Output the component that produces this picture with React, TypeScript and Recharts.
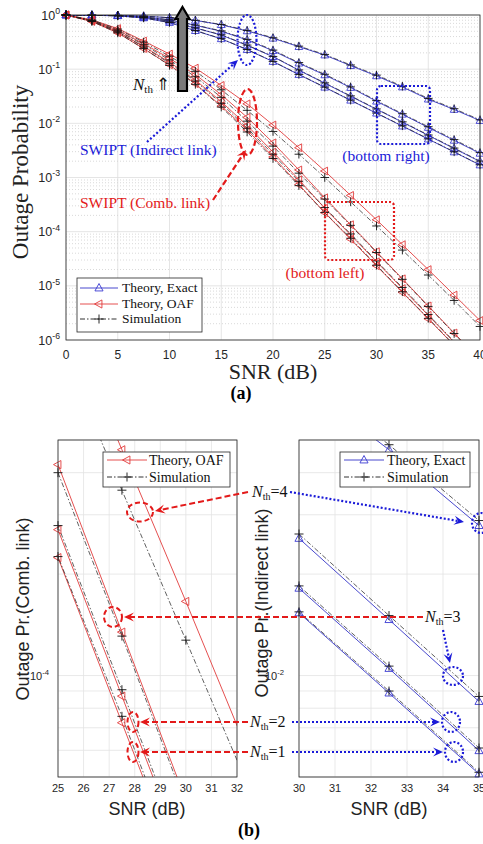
import React from 'react';
import { LineChart, Line, XAxis, YAxis, CartesianGrid, ReferenceLine } from 'recharts';

// ---------------- DATA (log10 of outage probability) ----------------
const snr = [0, 2.5, 5, 7.5, 10, 12.5, 15, 17.5, 20, 22.5, 25, 27.5, 30, 32.5, 35, 37.5, 40];

// Indirect link (SWIPT), Theory Exact, N_th = 1..4
const indirectTheory1 = [0, -0.005, -0.016, -0.055, -0.14, -0.29, -0.44, -0.64, -0.86, -1.1, -1.335, -1.575, -1.814, -2.052, -2.292, -2.53, -2.77];
const indirectTheory2 = [0, -0.004, -0.013, -0.045, -0.115, -0.24, -0.37, -0.56, -0.77, -1.02, -1.26, -1.5, -1.741, -1.979, -2.223, -2.465, -2.705];
const indirectTheory3 = [0, -0.003, -0.01, -0.035, -0.09, -0.19, -0.3, -0.46, -0.66, -0.89, -1.107, -1.34, -1.593, -1.834, -2.077, -2.315, -2.555];
const indirectTheory4 = [0, -0.002, -0.006, -0.02, -0.05, -0.1, -0.18, -0.295, -0.43, -0.585, -0.74, -0.935, -1.125, -1.33, -1.555, -1.745, -1.95];
// Indirect link, Simulation
const indirectSim1 = [0, -0.005, -0.016, -0.054, -0.138, -0.287, -0.437, -0.637, -0.857, -1.097, -1.332, -1.572, -1.811, -2.046, -2.287, -2.526, -2.766];
const indirectSim2 = [0, -0.004, -0.013, -0.044, -0.113, -0.237, -0.366, -0.555, -0.765, -1.014, -1.253, -1.493, -1.734, -1.972, -2.215, -2.457, -2.697];
const indirectSim3 = [0, -0.003, -0.01, -0.034, -0.088, -0.185, -0.293, -0.45, -0.648, -0.878, -1.094, -1.327, -1.58, -1.822, -2.062, -2.3, -2.54];
const indirectSim4 = [0, -0.002, -0.006, -0.02, -0.05, -0.098, -0.175, -0.285, -0.42, -0.575, -0.728, -0.922, -1.11, -1.315, -1.54, -1.73, -1.935];

// Combined link (SWIPT), Theory OAF, N_th = 1..4
const combTheory1 = [0, -0.12, -0.33, -0.62, -0.92, -1.27, -1.68, -2.12, -2.62, -3.13, -3.65, -4.14, -4.63, -5.12, -5.61, -6.1, -6.6];
const combTheory2 = [0, -0.11, -0.31, -0.58, -0.87, -1.2, -1.6, -2.04, -2.53, -3.04, -3.567, -4.061, -4.555, -5.05, -5.545, -6.04, -6.54];
const combTheory3 = [0, -0.1, -0.28, -0.53, -0.8, -1.1, -1.47, -1.89, -2.36, -2.86, -3.374, -3.871, -4.37, -4.87, -5.37, -5.87, -6.37];
const combTheory4 = [0, -0.09, -0.25, -0.48, -0.72, -0.98, -1.3, -1.64, -2.03, -2.45, -2.88, -3.33, -3.78, -4.24, -4.7, -5.17, -5.64];
// Combined link, Simulation
const combSim1 = [0, -0.12, -0.33, -0.62, -0.93, -1.28, -1.7, -2.16, -2.65, -3.15, -3.647, -4.121, -4.62, -5.11, -5.6, -6.09, -6.58];
const combSim2 = [0, -0.11, -0.31, -0.59, -0.89, -1.22, -1.63, -2.09, -2.57, -3.07, -3.555, -4.042, -4.54, -5.03, -5.53, -6.03, -6.53];
const combSim3 = [0, -0.1, -0.29, -0.55, -0.83, -1.14, -1.52, -1.96, -2.42, -2.92, -3.398, -3.883, -4.385, -4.88, -5.38, -5.88, -6.38];
const combSim4 = [0, -0.09, -0.26, -0.5, -0.76, -1.04, -1.38, -1.76, -2.15, -2.57, -3.0, -3.45, -3.895, -4.34, -4.8, -5.27, -5.75];

// tick values
const topXTicks = [0, 5, 10, 15, 20, 25, 30, 35, 40];
const topYTicks = [-6, -5, -4, -3, -2, -1, 0];
const blXTicks = [25, 26, 27, 28, 29, 30, 31, 32];
const blYTicks = [-4];
const brXTicks = [30, 31, 32, 33, 34, 35];
const brYTicks = [-2];

// ---------------- STYLE ----------------
const SANS = "'Liberation Sans', Arial, Helvetica, sans-serif";
const SERIF = "'Liberation Serif', 'Times New Roman', Times, serif";
const BLUE = '#3434c8';
const RED = '#e23c3c';
const SIMC = '#1c1c1c';
const ANN_BLUE = '#1b1bd8';
const ANN_RED = '#e31a1a';
const AXC = '#262626';

type Kind = 'up' | 'left' | 'plus';
type SeriesDef = { key: string; values: number[]; color: string; width: number; dash?: string; marker: Kind; mcolor: string };

const INDIRECT_THEORY: SeriesDef[] = [indirectTheory1, indirectTheory2, indirectTheory3, indirectTheory4].map((v, i) => ({ key: 'it' + (i + 1), values: v, color: BLUE, width: 0.9, marker: 'up' as Kind, mcolor: '#3a3ad2' }));
const INDIRECT_SIM: SeriesDef[] = [indirectSim1, indirectSim2, indirectSim3, indirectSim4].map((v, i) => ({ key: 'is' + (i + 1), values: v, color: SIMC, width: 0.7, dash: '5 2 1.5 2', marker: 'plus' as Kind, mcolor: '#111' }));
const COMB_THEORY: SeriesDef[] = [combTheory1, combTheory2, combTheory3, combTheory4].map((v, i) => ({ key: 'ct' + (i + 1), values: v, color: RED, width: 0.9, marker: 'left' as Kind, mcolor: '#e23a3a' }));
const COMB_SIM: SeriesDef[] = [combSim1, combSim2, combSim3, combSim4].map((v, i) => ({ key: 'cs' + (i + 1), values: v, color: SIMC, width: 0.7, dash: '5 2 1.5 2', marker: 'plus' as Kind, mcolor: '#111' }));

function markerPath(kind: Kind, cx: number, cy: number, s: number) {
  if (kind === 'up') return `M${cx},${cy - s} L${cx + s * 0.9},${cy + s * 0.65} L${cx - s * 0.9},${cy + s * 0.65} Z`;
  if (kind === 'left') return `M${cx - s},${cy} L${cx + s * 0.65},${cy - s * 0.9} L${cx + s * 0.65},${cy + s * 0.9} Z`;
  return `M${cx - s},${cy} H${cx + s} M${cx},${cy - s} V${cy + s}`;
}

const makeDot = (kind: Kind, color: string, s: number) => (props: any) => {
  const { cx, cy, value, index } = props;
  if (cx == null || cy == null || value == null || Number.isNaN(cy)) return <g key={'e' + index} />;
  return <path key={'m' + index} d={markerPath(kind, cx, cy, s)} fill="none" stroke={color} strokeWidth={0.9} />;
};

type PanelProps = {
  left: number; top: number; width: number; height: number;
  margin: { top: number; right: number; bottom: number; left: number };
  xDomain: [number, number]; yDomain: [number, number];
  xTicks: number[]; yTicks: number[];
  series: SeriesDef[];
  minor: number[]; minorDash?: string; gridColor: string; minorColor: string;
  yAxisW: number; xAxisH: number; yGap: number; xGap: number;
  xFont: number; yFont: number; markerSize: number;
};

function Panel(p: PanelProps) {
  const rows = snr.map((s, i) => {
    const r: any = { snr: s };
    p.series.forEach((d) => (r[d.key] = d.values[i]));
    return r;
  });
  const markerRows = rows
    .filter((r) => r.snr >= p.xDomain[0] && r.snr <= p.xDomain[1])
    .map((r) => {
      const o: any = { snr: r.snr };
      p.series.forEach((d) => {
        const v = r[d.key];
        o[d.key] = v >= p.yDomain[0] && v <= p.yDomain[1] ? v : null;
      });
      return o;
    });
  const box: React.CSSProperties = { position: 'absolute', left: p.left, top: p.top, width: p.width, height: p.height };
  const XTick = (t: any) => (
    <text x={t.x} y={t.y + p.xFont * 0.72} textAnchor="middle" fontFamily={SANS} fontSize={p.xFont} fill={AXC}>
      {t.payload.value}
    </text>
  );
  const YTick = (t: any) => (
    <text x={t.x} y={t.y + p.yFont * 0.36} textAnchor="end" fontFamily={SANS} fontSize={p.yFont} fill={AXC}>
      10<tspan dy={-p.yFont * 0.45} fontSize={p.yFont * 0.7}>{t.payload.value}</tspan>
    </text>
  );
  return (
    <>
      <div style={box}>
        <LineChart width={p.width} height={p.height} data={rows}
          margin={{ top: p.margin.top, right: p.margin.right, left: p.margin.left - p.yAxisW, bottom: p.margin.bottom - p.xAxisH }}>
          <CartesianGrid stroke={p.gridColor} strokeWidth={0.8} />
          {p.minor.map((v) => (
            <ReferenceLine key={'mn' + v} y={v} stroke={p.minorColor} strokeWidth={0.8} strokeDasharray={p.minorDash} ifOverflow="discard" />
          ))}
          <XAxis type="number" dataKey="snr" domain={p.xDomain} ticks={p.xTicks} allowDataOverflow height={p.xAxisH}
            axisLine={false} tickLine={false} tickSize={0} tickMargin={p.xGap} tick={XTick} interval={0} />
          <YAxis type="number" domain={p.yDomain} ticks={p.yTicks} allowDataOverflow width={p.yAxisW}
            axisLine={false} tickLine={false} tickSize={0} tickMargin={p.yGap} tick={YTick} interval={0} />
          <Line dataKey={p.series[0].key} stroke="none" dot={false} activeDot={false} isAnimationActive={false} />
        </LineChart>
      </div>
      <div style={box}>
        <LineChart width={p.width} height={p.height} data={rows} margin={p.margin}>
          <XAxis type="number" dataKey="snr" domain={p.xDomain} allowDataOverflow hide />
          <YAxis type="number" domain={p.yDomain} allowDataOverflow hide />
          {p.series.map((d) => (
            <Line key={d.key} dataKey={d.key} stroke={d.color} strokeWidth={d.width} strokeDasharray={d.dash}
              dot={false} activeDot={false} isAnimationActive={false} />
          ))}
        </LineChart>
      </div>
      <div style={box}>
        <LineChart width={p.width} height={p.height} data={markerRows} margin={p.margin}>
          <XAxis type="number" dataKey="snr" domain={p.xDomain} hide />
          <YAxis type="number" domain={p.yDomain} hide />
          {p.series.map((d) => (
            <Line key={d.key} dataKey={d.key} stroke="none" strokeWidth={0} dot={makeDot(d.marker, d.mcolor, p.markerSize)}
              activeDot={false} isAnimationActive={false} />
          ))}
        </LineChart>
      </div>
    </>
  );
}

function Arrow({ x1, y1, x2, y2, color, dash, width = 2, size = 10 }: any) {
  const dx = x2 - x1, dy = y2 - y1, len = Math.hypot(dx, dy);
  const ux = dx / len, uy = dy / len, nx = -uy, ny = ux;
  const bx = x2 - ux * size, by = y2 - uy * size;
  const mx = x2 - ux * size * 0.6, my = y2 - uy * size * 0.6;
  const hw = size * 0.45;
  return (
    <g>
      <line x1={x1} y1={y1} x2={mx} y2={my} stroke={color} strokeWidth={width} strokeDasharray={dash} />
      <path d={`M${x2},${y2} L${bx + nx * hw},${by + ny * hw} L${mx},${my} L${bx - nx * hw},${by - ny * hw} Z`} fill={color} />
    </g>
  );
}

function NthLabel({ x, y, n }: any) {
  return (
    <text x={x} y={y} fontFamily={SERIF} fontSize={16} fill="#111">
      <tspan fontStyle="italic">N</tspan>
      <tspan fontSize={10} dy={3}>th</tspan>
      <tspan dy={-3}>={n}</tspan>
    </text>
  );
}

function LegendRow({ x, y, kind, color, mcolor, dash, label, lw, tx, fs }: any) {
  return (
    <g>
      <line x1={x} y1={y} x2={x + lw} y2={y} stroke={color} strokeWidth={0.9} strokeDasharray={dash} />
      <path d={markerPath(kind, x + lw / 2, y, 4.5)} fill="none" stroke={mcolor} strokeWidth={0.9} />
      <text x={tx} y={y + fs * 0.33} fontFamily={SERIF} fontSize={fs} fill="#111">{label}</text>
    </g>
  );
}

const minorTop: number[] = [];
for (let e = -6; e < 0; e++) for (let k = 2; k <= 9; k++) minorTop.push(e + Math.log10(k));
const minorBL = [5, 6, 7, 8, 9, 20, 30, 40, 50].map((k) => -5 + Math.log10(k));
const minorBR = [5, 6, 7, 8, 9, 20, 30, 40, 50].map((k) => -3 + Math.log10(k));

export default function App() {
  return (
    <div style={{ position: 'absolute', left: 0, top: 0, width: 483, height: 844, background: '#fff', overflow: 'hidden' }}>
      <Panel left={0} top={0} width={483} height={400}
        margin={{ top: 15, right: 3, left: 66, bottom: 60 }}
        xDomain={[0, 40]} yDomain={[-6, 0]} xTicks={topXTicks} yTicks={topYTicks}
        series={[...INDIRECT_THEORY, ...COMB_THEORY, ...INDIRECT_SIM, ...COMB_SIM]}
        minor={minorTop} minorDash="1 2" gridColor="#dedede" minorColor="#cfcfcf"
        yAxisW={60} xAxisH={30} yGap={6} xGap={10} xFont={12} yFont={12.5} markerSize={4.3} />
      <Panel left={0} top={430} width={245} height={380}
        margin={{ top: 10, right: 8, left: 58, bottom: 33 }}
        xDomain={[25, 32]} yDomain={[Math.log10(5e-5), Math.log10(5e-4)]} xTicks={blXTicks} yTicks={blYTicks}
        series={[...COMB_THEORY, ...COMB_SIM]}
        minor={minorBL} gridColor="#e3e3e3" minorColor="#e3e3e3"
        yAxisW={50} xAxisH={25} yGap={9} xGap={7} xFont={11} yFont={11} markerSize={4.5} />
      <Panel left={245} top={430} width={238} height={380}
        margin={{ top: 10, right: 4, left: 54, bottom: 33 }}
        xDomain={[30, 35]} yDomain={[Math.log10(5e-3), Math.log10(5e-2)]} xTicks={brXTicks} yTicks={brYTicks}
        series={[...INDIRECT_THEORY, ...INDIRECT_SIM]}
        minor={minorBR} gridColor="#e3e3e3" minorColor="#e3e3e3"
        yAxisW={50} xAxisH={25} yGap={15} xGap={7} xFont={11} yFont={11} markerSize={4.5} />

      <svg width={483} height={844} style={{ position: 'absolute', left: 0, top: 0, pointerEvents: 'none' }}>
        {/* frames */}
        <rect x={66} y={15} width={414} height={325} fill="none" stroke={AXC} strokeWidth={0.8} />
        <rect x={58} y={440} width={179} height={337} fill="none" stroke={AXC} strokeWidth={0.8} />
        <rect x={299} y={440} width={180} height={337} fill="none" stroke={AXC} strokeWidth={0.8} />

        {/* top axis labels */}
        <text transform="translate(28,172) rotate(-90)" textAnchor="middle" fontFamily={SERIF} fontSize={23} fill="#222">Outage Probability</text>
        <text x={273} y={379} textAnchor="middle" fontFamily={SERIF} fontSize={22} fill="#222">SNR (dB)</text>
        <text x={241} y={399} textAnchor="middle" fontFamily={SERIF} fontSize={18} fontWeight="bold" fill="#000">(a)</text>

        {/* big arrow */}
        <path d="M182.5,7 L189.5,19 L187,19 L187,91 L178,91 L178,19 L175.5,19 Z" fill="#7a7a7a" stroke="#000" strokeWidth={2.2} />
        <text x={133} y={90} fontFamily={SERIF} fontSize={17} fill="#111">
          <tspan fontStyle="italic">N</tspan>
          <tspan fontSize={11} dy={3}>th</tspan>
          <tspan dy={-3} dx={3}>⇑</tspan>
        </text>

        {/* indirect annotation */}
        <ellipse cx={247} cy={40} rx={9.5} ry={25} fill="none" stroke={ANN_BLUE} strokeWidth={2.2} strokeDasharray="2 2" />
        <Arrow x1={147} y1={142} x2={238} y2={60} color={ANN_BLUE} dash="2 2.2" width={2.2} />
        <text x={80} y={155} fontFamily={SERIF} fontSize={15.5} fill={ANN_BLUE}>SWIPT (Indirect link)</text>

        {/* comb annotation */}
        <ellipse cx={247.5} cy={122} rx={9.5} ry={33} fill="none" stroke={ANN_RED} strokeWidth={2.2} strokeDasharray="6 3" />
        <Arrow x1={213} y1={200} x2={246} y2={150} color={ANN_RED} dash="6 3" width={2.2} />
        <text x={80} y={208} fontFamily={SERIF} fontSize={15.5} fill={ANN_RED}>SWIPT (Comb. link)</text>

        {/* zoom boxes */}
        <rect x={377} y={86} width={53} height={58} rx={4} fill="none" stroke={ANN_BLUE} strokeWidth={2.2} strokeDasharray="2 2" />
        <text x={386} y={161} textAnchor="middle" fontFamily={SERIF} fontSize={15.5} fill={ANN_BLUE}>(bottom right)</text>
        <rect x={325} y={202} width={69} height={58} rx={4} fill="none" stroke={ANN_RED} strokeWidth={2.2} strokeDasharray="2 2" />
        <text x={325} y={278} textAnchor="middle" fontFamily={SERIF} fontSize={15.5} fill={ANN_RED}>(bottom left)</text>

        {/* top legend */}
        <rect x={77} y={278} width={125} height={54} fill="#fff" stroke={AXC} strokeWidth={0.8} />
        <LegendRow x={80} y={288} lw={38} tx={122} fs={13.5} kind="up" color={BLUE} mcolor="#3a3ad2" label="Theory, Exact" />
        <LegendRow x={80} y={304} lw={38} tx={122} fs={13.5} kind="left" color={RED} mcolor="#e23a3a" label="Theory, OAF" />
        <LegendRow x={80} y={319} lw={38} tx={122} fs={13.5} kind="plus" color={SIMC} mcolor="#111" dash="5 2 1.5 2" label="Simulation" />

        {/* bottom legends */}
        <rect x={103} y={452} width={127} height={35} fill="#fff" stroke={AXC} strokeWidth={0.8} />
        <LegendRow x={107} y={460} lw={40} tx={149} fs={14} kind="left" color={RED} mcolor="#e23a3a" label="Theory, OAF" />
        <LegendRow x={107} y={477} lw={40} tx={149} fs={14} kind="plus" color={SIMC} mcolor="#111" dash="5 2 1.5 2" label="Simulation" />
        <rect x={340} y={452} width={130} height={35} fill="#fff" stroke={AXC} strokeWidth={0.8} />
        <LegendRow x={344} y={460} lw={40} tx={387} fs={14} kind="up" color={BLUE} mcolor="#3a3ad2" label="Theory, Exact" />
        <LegendRow x={344} y={477} lw={40} tx={387} fs={14} kind="plus" color={SIMC} mcolor="#111" dash="5 2 1.5 2" label="Simulation" />

        {/* bottom axis labels */}
        <text transform="translate(29,609) rotate(-90)" textAnchor="middle" fontFamily={SANS} fontSize={18} fill="#222">Outage Pr.(Comb. link)</text>
        <text transform="translate(268,603) rotate(-90)" textAnchor="middle" fontFamily={SANS} fontSize={18} fill="#222">Outage Pr.(Indirect link)</text>
        <text x={147} y={815} textAnchor="middle" fontFamily={SANS} fontSize={18} fill="#222">SNR (dB)</text>
        <text x={389} y={815} textAnchor="middle" fontFamily={SANS} fontSize={18} fill="#222">SNR (dB)</text>
        <text x={249} y={836} textAnchor="middle" fontFamily={SERIF} fontSize={18} fontWeight="bold" fill="#000">(b)</text>

        {/* N_th annotations */}
        <NthLabel x={252} y={497} n={4} />
        <NthLabel x={425} y={622} n={3} />
        <NthLabel x={250} y={727} n={2} />
        <NthLabel x={250} y={757} n={1} />

        <ellipse cx={140} cy={512} rx={13} ry={9.5} fill="none" stroke={ANN_RED} strokeWidth={2} strokeDasharray="5 3" />
        <ellipse cx={113} cy={617} rx={9} ry={10} fill="none" stroke={ANN_RED} strokeWidth={2} strokeDasharray="5 3" />
        <ellipse cx={133} cy={722} rx={5.5} ry={10} fill="none" stroke={ANN_RED} strokeWidth={2} strokeDasharray="5 3" />
        <ellipse cx={133} cy={752} rx={5.5} ry={10} fill="none" stroke={ANN_RED} strokeWidth={2} strokeDasharray="5 3" />
        <Arrow x1={248} y1={492} x2={155} y2={511} color={ANN_RED} dash="6 3" width={2} />
        <Arrow x1={423} y1={617} x2={124} y2={617} color={ANN_RED} dash="6 3" width={2} />
        <Arrow x1={248} y1={722} x2={140} y2={722} color={ANN_RED} dash="6 3" width={2} />
        <Arrow x1={248} y1={752} x2={140} y2={752} color={ANN_RED} dash="6 3" width={2} />

        <ellipse cx={481} cy={523} rx={9} ry={10} fill="none" stroke={ANN_BLUE} strokeWidth={2.2} strokeDasharray="2 2" />
        <ellipse cx={453} cy={676} rx={10} ry={9} fill="none" stroke={ANN_BLUE} strokeWidth={2.2} strokeDasharray="2 2" />
        <ellipse cx={451} cy={722} rx={9} ry={10} fill="none" stroke={ANN_BLUE} strokeWidth={2.2} strokeDasharray="2 2" />
        <ellipse cx={454} cy={752} rx={9} ry={10} fill="none" stroke={ANN_BLUE} strokeWidth={2.2} strokeDasharray="2 2" />
        <Arrow x1={290} y1={492} x2={464} y2={522} color={ANN_BLUE} dash="2 2" width={2.2} />
        <Arrow x1={443} y1={630} x2={450} y2={663} color={ANN_BLUE} dash="2 2" width={2.2} />
        <Arrow x1={292} y1={722} x2={440} y2={722} color={ANN_BLUE} dash="2 2" width={2.2} />
        <Arrow x1={292} y1={752} x2={443} y2={752} color={ANN_BLUE} dash="2 2" width={2.2} />
      </svg>
    </div>
  );
}
